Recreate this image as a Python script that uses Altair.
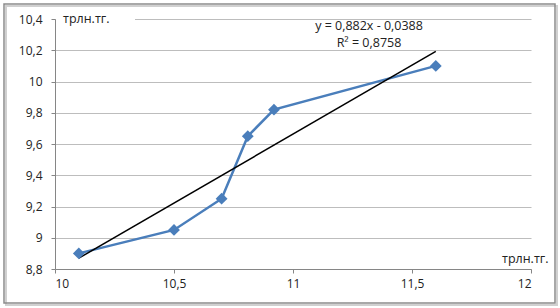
import altair as alt
import pandas as pd

x_vals = [10.1, 10.5, 10.7, 10.81, 10.92, 11.6]
y_vals = [8.9, 9.05, 9.25, 9.65, 9.82, 10.1]
eq_lines = ["y = 0,882x - 0,0388", "R² = 0,8758"]
unit = "трлн.тг."

df = pd.DataFrame({"x": x_vals, "y": y_vals})

FONT = "Open Sans"
xs = alt.Scale(domain=[10, 12], nice=False, zero=False)
ys = alt.Scale(domain=[8.8, 10.4], nice=False, zero=False)

base = alt.Chart(df)

xax = alt.Axis(values=[10, 10.5, 11, 11.5, 12], title=None, grid=False,
               domainColor="#868686", tickColor="#868686", tickSize=4,
               labelFont=FONT, labelFontSize=12, labelColor="#222222",
               labelPadding=5, format=".1~f", labelOverlap=False, tickCount=20,
               labelExpr="replace(datum.label, '.', ',')")
yax = alt.Axis(values=[8.8, 9, 9.2, 9.4, 9.6, 9.8, 10, 10.2, 10.4], title=None,
               grid=True, gridColor="#bdbdbd", domainColor="#868686",
               tickColor="#868686", tickSize=4, labelFont=FONT, labelFontSize=12,
               labelColor="#222222", labelPadding=9, format=".1~f", labelOverlap=False,
               tickCount=20, labelExpr="replace(datum.label, '.', ',')")

line = base.mark_line(color="#4a7ebb", strokeWidth=2.5).encode(
    x=alt.X("x:Q", scale=xs, axis=xax),
    y=alt.Y("y:Q", scale=ys, axis=yax),
)
pts = base.mark_point(shape="diamond", filled=True, size=140, color="#4a7ebb", opacity=1).encode(
    x=alt.X("x:Q", scale=xs), y=alt.Y("y:Q", scale=ys)
)
trend = base.transform_regression("x", "y", extent=[10.1, 11.6]).mark_line(
    color="#000000", strokeWidth=1.5).encode(
    x=alt.X("x:Q", scale=xs), y=alt.Y("y:Q", scale=ys)
)

lbl_df = pd.DataFrame({"t": [unit]})
white = alt.Chart(lbl_df).mark_rect(color="white").encode(
    x=alt.value(1), x2=alt.value(80), y=alt.value(-7), y2=alt.value(7))
top_lbl = alt.Chart(lbl_df).mark_text(align="left", baseline="middle", font=FONT,
                                      fontSize=12.5, color="#222222").encode(
    x=alt.value(8), y=alt.value(0), text="t:N")
bot_lbl = alt.Chart(lbl_df).mark_text(align="left", baseline="middle", font=FONT,
                                      fontSize=12.5, color="#222222").encode(
    x=alt.value(447), y=alt.value(240), text="t:N")

eq_df = pd.DataFrame({"t": eq_lines, "yy": [7, 24]})
eq = alt.Chart(eq_df).mark_text(align="center", baseline="middle", font=FONT,
                                fontSize=12.5, color="#222222").encode(
    x=alt.value(314), y=alt.Y("yy:Q", scale=None), text="t:N")

border = alt.Chart(lbl_df).mark_rect(fill=None, stroke="#8c8c8c", strokeWidth=1.5).encode(
    x=alt.value(-51), x2=alt.value(500), y=alt.value(-15), y2=alt.value(284))
shadow = alt.Chart(lbl_df).mark_rect(fill=None, stroke="#d0d0d0", strokeWidth=2).encode(
    x=alt.value(-49), x2=alt.value(502), y=alt.value(-13), y2=alt.value(286))

chart = alt.layer(shadow, border, line, trend, pts, white, top_lbl, bot_lbl, eq).properties(
    width=476, height=250,
    autosize=alt.AutoSizeParams(type="none"),
    padding={"left": 55, "top": 19, "right": 29, "bottom": 39},
    background="white",
).configure_view(stroke=None)

chart.save("out.html", embed_options={"renderer": "svg", "actions": False})
